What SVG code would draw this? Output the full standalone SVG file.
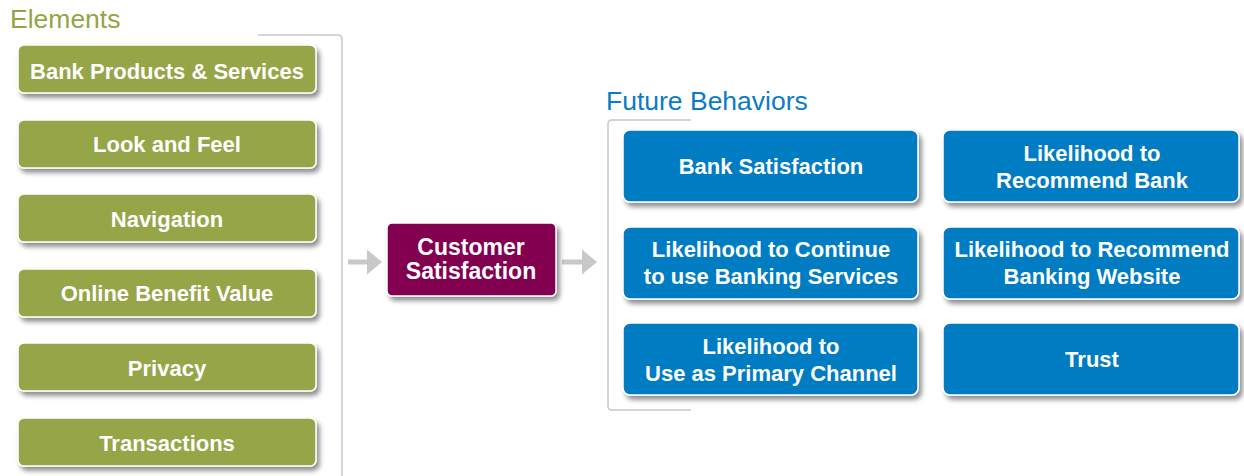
<svg xmlns="http://www.w3.org/2000/svg" width="1244" height="476" viewBox="0 0 1244 476">
  <style>
    .title { font-family: "Liberation Sans", Arial, sans-serif; font-size: 26.5px; }
    .lbl { font-family: "Liberation Sans", Arial, sans-serif; font-size: 22px; font-weight: bold; fill: #ffffff; text-anchor: middle; }
    .big { font-size: 23px; }
    .green { fill: #95a546; stroke: #ffffff; stroke-width: 1.5; filter: url(#shadow); }
    .blue { fill: #037bc2; stroke: #ffffff; stroke-width: 1.5; filter: url(#shadow); }
    .plum { fill: #82004f; stroke: #ffffff; stroke-width: 1.5; filter: url(#shadow); }
    .bracket { fill: none; stroke: #c8c8c8; stroke-width: 1.5; }
    .conn { stroke: #c8c8c8; stroke-width: 5; fill: none; }
  </style>
  <defs>
    <filter id="shadow" x="-10%" y="-20%" width="125%" height="160%">
      <feGaussianBlur in="SourceAlpha" stdDeviation="2.5"/>
      <feOffset dx="3" dy="4" result="b"/>
      <feComponentTransfer><feFuncA type="linear" slope="0.45"/></feComponentTransfer>
      <feMerge><feMergeNode/><feMergeNode in="SourceGraphic"/></feMerge>
    </filter>
    <marker id="head" markerWidth="4" markerHeight="5" refX="1" refY="2.5" orient="auto" markerUnits="strokeWidth">
      <path d="M0,0 L3,2.5 L0,5 z" fill="#c8c8c8"/>
    </marker>
  </defs>

  <rect width="1244" height="476" fill="#ffffff"/>

  <!-- section titles and brackets -->
  <text class="title" x="10" y="28" fill="#94a545">Elements</text>
  <path class="bracket" d="M258,35 H338 Q342,35 342,39 V476"/>
  <text class="title" x="606" y="110" fill="#0a7bc4">Future Behaviors</text>
  <path class="bracket" d="M691,120 H612 Q608,120 608,124 V406 Q608,410 612,410 H691"/>

  <!-- connectors -->
  <g id="connectors">
    <line class="conn" x1="348" y1="262" x2="372" y2="262" marker-end="url(#head)"/>
    <line class="conn" x1="562" y1="262" x2="587" y2="262" marker-end="url(#head)"/>
  </g>

  <!-- elements -->
  <g id="bank-products">
    <rect class="green" x="18" y="45" width="298" height="48" rx="6"/>
    <text class="lbl" x="167" y="79">Bank Products &amp; Services</text>
  </g>
  <g id="look-feel">
    <rect class="green" x="18" y="120" width="298" height="48" rx="6"/>
    <text class="lbl" x="167" y="152">Look and Feel</text>
  </g>
  <g id="navigation">
    <rect class="green" x="18" y="194" width="298" height="48" rx="6"/>
    <text class="lbl" x="167" y="227">Navigation</text>
  </g>
  <g id="online-benefit">
    <rect class="green" x="18" y="269" width="298" height="48" rx="6"/>
    <text class="lbl" x="167" y="301">Online Benefit Value</text>
  </g>
  <g id="privacy">
    <rect class="green" x="18" y="343" width="298" height="48" rx="6"/>
    <text class="lbl" x="167" y="376">Privacy</text>
  </g>
  <g id="transactions">
    <rect class="green" x="18" y="418" width="298" height="48" rx="6"/>
    <text class="lbl" x="167" y="451">Transactions</text>
  </g>

  <!-- central node -->
  <g id="customer-satisfaction">
    <rect class="plum" x="387" y="223" width="169" height="73" rx="5"/>
    <text class="lbl big" x="471" y="255">Customer</text>
    <text class="lbl big" x="471" y="279">Satisfaction</text>
  </g>

  <!-- future behaviors -->
  <g id="bank-satisfaction">
    <rect class="blue" x="623" y="130" width="295" height="72" rx="7"/>
    <text class="lbl" x="771" y="174">Bank Satisfaction</text>
  </g>
  <g id="recommend-bank">
    <rect class="blue" x="943" y="130" width="296" height="72" rx="7"/>
    <text class="lbl" x="1092" y="161">Likelihood to</text>
    <text class="lbl" x="1092" y="188">Recommend Bank</text>
  </g>
  <g id="continue-services">
    <rect class="blue" x="623" y="227" width="295" height="72" rx="7"/>
    <text class="lbl" x="771" y="257">Likelihood to Continue</text>
    <text class="lbl" x="771" y="284">to use Banking Services</text>
  </g>
  <g id="recommend-website">
    <rect class="blue" x="943" y="227" width="296" height="72" rx="7"/>
    <text class="lbl" x="1092" y="257">Likelihood to Recommend</text>
    <text class="lbl" x="1092" y="284">Banking Website</text>
  </g>
  <g id="primary-channel">
    <rect class="blue" x="623" y="323" width="295" height="72" rx="7"/>
    <text class="lbl" x="771" y="354">Likelihood to</text>
    <text class="lbl" x="771" y="381">Use as Primary Channel</text>
  </g>
  <g id="trust">
    <rect class="blue" x="943" y="323" width="296" height="72" rx="7"/>
    <text class="lbl" x="1092" y="367">Trust</text>
  </g>
</svg>
